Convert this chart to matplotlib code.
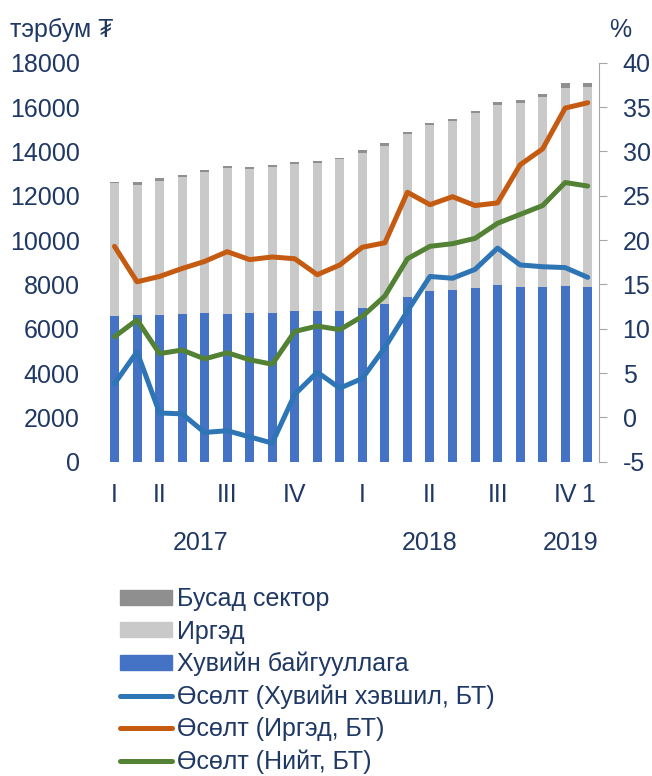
import matplotlib
matplotlib.use("Agg")
import matplotlib.pyplot as plt
from matplotlib.patches import Patch
from matplotlib.lines import Line2D
import numpy as np

plt.rcParams['font.family'] = ['Liberation Sans', 'DejaVu Sans']
plt.rcParams['axes.unicode_minus'] = False

# tick labels for the 22 monthly bars (quarter marks only)
tick_labels = ['I', '', 'II', '', '', 'III', '', '', 'IV', '', '',
               'I', '', '', 'II', '', '', 'III', '', '', 'IV', '1']
years = ['2017', '2018', '2019']
year_pos = [3.8, 14.0, 20.25]

# loans, billion tugrik
private_org = [6586, 6617, 6617, 6676, 6707, 6676, 6707, 6721, 6784, 6798, 6811,
               6933, 7113, 7429, 7684, 7760, 7835, 7955, 7865, 7880, 7940, 7865]
individuals = [5971, 5877, 6058, 6152, 6360, 6571, 6495, 6585, 6657, 6675, 6829,
               7005, 7140, 7352, 7503, 7607, 7880, 8148, 8329, 8584, 8946, 9036]
other = [60, 110, 110, 120, 90, 80, 80, 90, 80, 90, 75,
         110, 120, 105, 120, 120, 105, 120, 135, 135, 210, 195]

# growth, %
growth_private = [3.8, 7.4, 0.5, 0.4, -1.7, -1.5, -2.2, -2.9, 2.6, 5.1, 3.3,
                  4.4, 7.9, 12.0, 15.9, 15.7, 16.7, 19.1, 17.2, 17.0, 16.9, 15.8]
growth_indiv = [19.3, 15.3, 15.9, 16.8, 17.6, 18.7, 17.8, 18.1, 17.9, 16.1, 17.2,
                19.2, 19.7, 25.4, 24.0, 24.9, 23.9, 24.2, 28.5, 30.3, 34.9, 35.5]
growth_total = [9.1, 11.0, 7.2, 7.6, 6.6, 7.3, 6.5, 6.0, 9.7, 10.3, 9.9,
                11.4, 13.7, 17.9, 19.3, 19.6, 20.2, 21.9, 22.9, 23.9, 26.5, 26.1]

text_col = '#1F3864'
c_blue_bar = '#4472C4'
c_light = '#C9C9C9'
c_dark = '#8F8F8F'
c_line_blue = '#2E75B6'
c_orange = '#C55A11'
c_green = '#548235'
fs = 18

fig = plt.figure(figsize=(6.52, 7.76), dpi=100)
ax = fig.add_axes([0.1583, 0.405, 0.7604, 0.514])

x = np.arange(len(private_org))
po = np.array(private_org)
ind = np.array(individuals)
ax.bar(x, po, width=0.4, color=c_blue_bar)
ax.bar(x, ind, width=0.4, bottom=po, color=c_light)
ax.bar(x, other, width=0.4, bottom=po + ind, color=c_dark)

ax.set_xlim(-0.5, 21.5)
ax.set_ylim(0, 18000)
ax.set_yticks(np.arange(0, 18001, 2000))
ax.set_xticks(x)
ax.set_xticklabels(tick_labels)
for s in ax.spines.values():
    s.set_visible(False)
ax.tick_params(axis='y', length=0, labelsize=fs, labelcolor=text_col, pad=17)
ax.tick_params(axis='x', length=0, labelsize=fs, labelcolor=text_col, pad=15)

for yr, p in zip(years, year_pos):
    ax.text(p, -0.205, yr, transform=ax.get_xaxis_transform(), ha='center',
            va='center', fontsize=fs, color=text_col)

ax2 = ax.twinx()
ax2.plot(x, growth_private, color=c_line_blue, lw=3.6, solid_capstyle='round')
ax2.plot(x, growth_indiv, color=c_orange, lw=3.6, solid_capstyle='round')
ax2.plot(x, growth_total, color=c_green, lw=3.6, solid_capstyle='round')
ax2.set_ylim(-5, 40)
ax2.set_yticks(np.arange(-5, 41, 5))
for k in ['top', 'left', 'bottom']:
    ax2.spines[k].set_visible(False)
ax2.spines['right'].set_color('#A6A6A6')
ax2.tick_params(axis='y', length=6, color='#A6A6A6', labelsize=fs,
                labelcolor=text_col, pad=11)

fig.text(0.015, 0.961, 'тэрбум ₮', fontsize=fs, color=text_col, va='center')
fig.text(0.935, 0.961, '%', fontsize=fs, color=text_col, va='center')

handles = [Patch(color=c_dark), Patch(color=c_light), Patch(color=c_blue_bar),
           Line2D([], [], color=c_line_blue, lw=3.6, solid_capstyle='round'),
           Line2D([], [], color=c_orange, lw=3.6, solid_capstyle='round'),
           Line2D([], [], color=c_green, lw=3.6, solid_capstyle='round')]
labels = ['Бусад сектор', 'Иргэд', 'Хувийн байгууллага',
          'Өсөлт (Хувийн хэвшил, БТ)', 'Өсөлт (Иргэд, БТ)', 'Өсөлт (Нийт, БТ)']
leg = fig.legend(handles, labels, loc='upper left', bbox_to_anchor=(0.184, 0.243),
                 frameon=False, fontsize=fs, handlelength=2.1, handleheight=0.55,
                 handletextpad=0.2, labelspacing=0.33, borderpad=0, borderaxespad=0)
for t in leg.get_texts():
    t.set_color(text_col)

fig.savefig('out.png', dpi=100)
